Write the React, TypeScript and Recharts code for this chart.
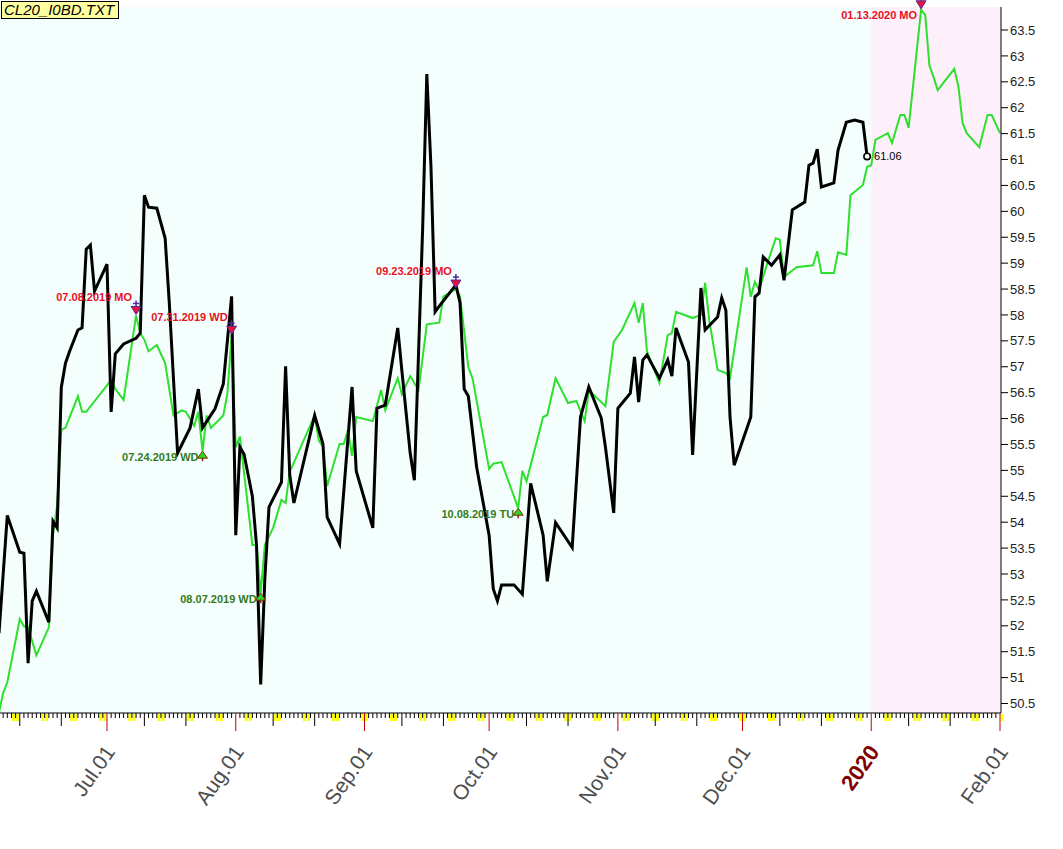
import React from "react";
import { LineChart, Line, XAxis, YAxis, ReferenceArea, ReferenceDot } from "recharts";

// x values are days counted from 2019-07-01 (a Monday)
const closeDays = [
  -26, -24, -21, -20, -19, -18, -17, -14, -13, -12, -11, -10, -9, -7, -6, -5, -4, -3,
  0, 1, 2, 4, 7, 8, 9, 10, 12, 14, 15, 17, 20, 22, 23, 26, 28, 30, 31, 32, 33, 35, 36,
  37, 38, 39, 42, 43, 44, 45, 50, 52, 53, 56, 59, 60, 64, 65, 67, 70, 71, 73, 74, 76,
  77, 78, 79, 80, 84, 85, 86, 87, 89, 92, 93, 94, 95, 98, 100, 102, 105, 106, 108, 112,
  114, 116, 119, 120, 122, 123, 126, 127, 128, 129, 130, 133, 135, 136, 137, 140, 141,
  143, 144, 147, 148, 149, 150, 151, 155, 156, 157, 158, 160, 162, 163, 165, 168, 169,
  170, 171, 172, 175, 176, 178, 180, 182, 183,
];
const closePrices = [
  51.86, 54.13, 53.42, 53.4, 51.28, 52.48, 52.67, 52.07, 54.02, 53.89, 56.6, 57.07, 57.3,
  57.71, 57.75, 59.27, 59.35, 58.46, 58.98, 56.13, 57.25, 57.44, 57.55, 57.65, 60.31,
  60.08, 60.06, 59.48, 58.23, 55.33, 55.82, 56.57, 55.82, 56.19, 56.67, 58.36, 53.75,
  55.45, 55.31, 54.5, 53.56, 50.87, 52.9, 54.29, 54.77, 57.01, 54.91, 54.37, 56.06,
  55.51, 54.1, 53.58, 56.61, 54.99, 53.89, 56.2, 56.26, 57.75, 56.92, 55.33, 54.81,
  59.68, 62.65, 60.86, 58.06, 58.17, 58.58, 58.23, 56.57, 56.43, 55.06, 53.75, 52.71,
  52.48, 52.79, 52.79, 52.61, 54.75, 53.75, 52.86, 53.99, 53.51, 56.03, 56.61, 56.01,
  55.45, 54.18, 56.2, 56.49, 57.19, 56.32, 57.13, 57.23, 56.78, 57.13, 56.82, 57.75,
  57.09, 55.3, 58.52, 57.71, 57.96, 58.33, 58.09, 56.03, 55.1, 56.03, 58.35, 58.42,
  59.12, 58.96, 59.16, 58.67, 60.03, 60.18, 60.89, 60.93, 61.2, 60.47, 60.55, 61.18,
  61.72, 61.76, 61.72, 61.06,
];

const forecastDays = [
  -26, -25, -24, -21, -20, -19, -17, -14, -13, -12, -11, -10, -7, -6, -5, 1, 2, 4, 7, 8,
  9, 10, 12, 14, 16, 18, 19, 21, 22, 23, 24, 25, 28, 29, 30, 31, 32, 35, 36, 37, 38, 40,
  42, 43, 44, 50, 51, 52, 53, 56, 57, 58, 59, 60, 64, 66, 67, 70, 71, 73, 75, 77, 80,
  81, 84, 85, 87, 88, 92, 93, 95, 99, 100, 101, 105, 106, 108, 111, 113, 115, 116, 120,
  122, 124, 127, 128, 129, 130, 133, 135, 136, 137, 141, 143, 144, 145, 147, 149, 150,
  154, 155, 156, 157, 159, 161, 162, 163, 166, 170, 171, 172, 175, 176, 178, 179, 182,
  183, 184, 185, 188, 189, 191, 192, 193, 196, 197, 198, 199, 200, 204, 205, 206, 207,
  210, 212, 213, 215,
];
const forecastPrices = [
  50.33, 50.7, 50.91, 52.13, 51.99, 51.97, 51.43, 51.97, 53.75, 54.33, 55.78, 55.82,
  56.43, 56.13, 56.13, 56.74, 56.57, 56.36, 57.99, 57.65, 57.52, 57.3, 57.42, 57.07,
  56.06, 56.16, 56.13, 55.86, 56.13, 55.37, 56.06, 55.82, 56.06, 56.49, 57.61, 55.45,
  55.65, 53.56, 53.56, 52.63, 53.56, 53.89, 54.43, 54.37, 54.97, 56.06, 55.58, 55.45,
  54.7, 55.51, 55.51, 55.78, 55.28, 56.03, 55.95, 56.55, 56.16, 56.78, 56.47, 56.82,
  56.55, 57.82, 57.85, 58.36, 58.5, 58.36, 56.99, 56.78, 55.03, 55.13, 55.16, 54.27,
  54.99, 54.79, 56.03, 56.07, 56.78, 56.3, 56.34, 55.95, 56.55, 56.24, 57.48, 57.71,
  58.23, 57.85, 58.23, 57.3, 56.69, 57.61, 57.65, 58.06, 57.94, 58.0, 58.62, 57.9,
  56.94, 56.88, 56.78, 58.92, 58.35, 58.64, 58.48, 59.0, 59.48, 59.45, 58.73, 58.92,
  58.96, 59.23, 58.81, 58.81, 59.21, 59.16, 60.31, 60.51, 60.86, 60.89, 61.38, 61.51,
  61.32, 61.86, 61.86, 61.61, 63.89, 63.79, 62.82, 62.59, 62.34, 62.75, 62.4, 61.7,
  61.51, 61.24, 61.86, 61.86, 61.51,
];

const topDays = [7, 30, 84, 196];
const topLabels = ["07.08.2019 MO", "07.31.2019 WD", "09.23.2019 MO", "01.13.2020 MO"];
const bottomDays = [-26, 23, 37, 99];
const bottomLabels = ["06.05.2019 WD", "07.24.2019 WD", "08.07.2019 WD", "10.08.2019 TU"];

const monthDays = [0, 31, 62, 92, 123, 153, 184, 215];
const monthLabels = ["Jul.01", "Aug.01", "Sep.01", "Oct.01", "Nov.01", "Dec.01", "2020", "Feb.01"];
const tenthDays = [-21, -11, 9, 19, 40, 50, 71, 81, 101, 111, 132, 142, 162, 172, 193, 203];
const yTicks = [
  50.5, 51, 51.5, 52, 52.5, 53, 53.5, 54, 54.5, 55, 55.5, 56, 56.5, 57, 57.5, 58, 58.5,
  59, 59.5, 60, 60.5, 61, 61.5, 62, 62.5, 63, 63.5,
];
const lastDay = 183;
const lastClose = 61.06;
const futureStart = 184;

const xDomain = [-25.76, 215.24];
const yDomain = [50.317, 63.944];

const closeData = closeDays.map((d, i) => ({ d, v: closePrices[i] }));
const forecastData = forecastDays.map((d, i) => ({ d, v: forecastPrices[i] }));
const dayTicks: number[] = [];
for (let d = -25; d <= 215; d++) dayTicks.push(d);

const forecastAt = (d: number) => forecastPrices[forecastDays.indexOf(d)];

const FONT = "Arial, 'Liberation Sans', sans-serif";

function DayTick(props: any) {
  const { x, y, payload } = props;
  const d = payload.value;
  const wd = ((d % 7) + 7) % 7;
  const mi = monthDays.indexOf(d);
  const len = mi >= 0 ? 18 : tenthDays.includes(d) ? 13 : 5;
  const isYear = monthLabels[mi] === "2020";
  const lx = x + 9;
  const ly = y + 39;
  return (
    <g>
      {wd >= 5 && <rect x={x + 0.6} y={y + 1} width={3} height={7} fill="#ffff00" />}
      <line x1={x} x2={x} y1={y} y2={y + len} stroke={mi >= 0 ? "#c00000" : "#000"} strokeWidth={1} />
      {mi >= 0 && (
        <text
          x={lx}
          y={ly}
          textAnchor="end"
          transform={`rotate(-55 ${lx} ${ly})`}
          fontFamily={FONT}
          fontSize={isYear ? 22 : 21}
          fontWeight={isYear ? "bold" : "normal"}
          fill={isYear ? "#800000" : "#4d4d4d"}
        >
          {monthLabels[mi]}
        </text>
      )}
    </g>
  );
}

function TopMark({ cx, cy, label }: any) {
  const ty = Math.max(cy - 14, 19);
  return (
    <g>
      <path d={`M${cx - 5} ${cy - 9} L${cx + 5} ${cy - 9} L${cx} ${cy - 1} Z`} fill="#ee1133" stroke="#4a2aa0" strokeWidth={1} />
      <line x1={cx} x2={cx} y1={cy - 15} y2={cy - 9} stroke="#4a2aa0" strokeWidth={1.5} />
      <line x1={cx - 3} x2={cx + 3} y1={cy - 12} y2={cy - 12} stroke="#4a2aa0" strokeWidth={1.5} />
      <text x={cx - 4} y={ty} textAnchor="end" fontFamily={FONT} fontSize={11} fontWeight="bold" fill="#e8101e">
        {label}
      </text>
    </g>
  );
}

function BottomMark({ cx, cy, label }: any) {
  return (
    <g>
      <line x1={cx} x2={cx} y1={cy + 6} y2={cy + 10} stroke="#8b2500" strokeWidth={1.5} />
      <path d={`M${cx} ${cy} L${cx + 5} ${cy + 7} L${cx - 5} ${cy + 7} Z`} fill="#22dd22" stroke="#8b2500" strokeWidth={1} />
      <text x={cx - 4} y={cy + 10} textAnchor="end" fontFamily={FONT} fontSize={11} fontWeight="bold" fill="#347a23">
        {label}
      </text>
    </g>
  );
}

function LastMark({ cx, cy }: any) {
  return (
    <g>
      <circle cx={cx} cy={cy} r={3.2} fill="#fff" stroke="#000" strokeWidth={1.6} />
      <text x={cx + 7} y={cy + 4} fontFamily={FONT} fontSize={11} fill="#000">
        {lastClose.toFixed(2)}
      </text>
    </g>
  );
}

export default function App() {
  return (
    <div style={{ position: "relative", width: 1063, height: 849, background: "#fff" }}>
      <style>{`body{margin:0}`}</style>
      <LineChart width={1063} height={849} margin={{ top: 7, right: 0, bottom: 0, left: 0 }}>
        <XAxis
          type="number"
          dataKey="d"
          domain={xDomain}
          allowDataOverflow
          ticks={dayTicks}
          interval={0}
          height={136}
          tickSize={0}
          tickMargin={0}
          tickLine={false}
          axisLine={{ stroke: "#000" }}
          tick={<DayTick />}
        />
        <YAxis
          orientation="right"
          type="number"
          domain={yDomain}
          allowDataOverflow
          ticks={yTicks}
          interval={0}
          width={62}
          tickSize={7}
          tickMargin={2}
          tickLine={{ stroke: "#000" }}
          axisLine={{ stroke: "#000" }}
          tick={{ fill: "#222", fontSize: 13, fontFamily: FONT }}
        />
        <ReferenceArea x1={xDomain[0]} x2={futureStart} fill="#f4fffd" fillOpacity={1} stroke="none" />
        <ReferenceArea x1={futureStart} x2={xDomain[1]} fill="#fdf0fa" fillOpacity={1} stroke="none" />
        <Line data={forecastData} dataKey="v" stroke="#2ee02e" strokeWidth={2} dot={false} isAnimationActive={false} />
        <Line data={closeData} dataKey="v" stroke="#000" strokeWidth={3} dot={false} isAnimationActive={false} />
        {topDays.map((d, i) => (
          <ReferenceDot key={"t" + d} x={d} y={forecastAt(d)} shape={(p: any) => <TopMark {...p} label={topLabels[i]} />} />
        ))}
        {bottomDays.map((d, i) => (
          <ReferenceDot key={"b" + d} x={d} y={forecastAt(d)} shape={(p: any) => <BottomMark {...p} label={bottomLabels[i]} />} />
        ))}
        <ReferenceDot x={lastDay} y={lastClose} shape={(p: any) => <LastMark {...p} />} />
      </LineChart>
      <div
        style={{
          position: "absolute",
          left: 1,
          top: 1,
          width: 114,
          height: 16,
          background: "#ffffa0",
          border: "1px solid #000",
          fontFamily: FONT,
          fontStyle: "italic",
          fontSize: 15,
          lineHeight: "16px",
          paddingLeft: 2,
          boxSizing: "content-box",
          color: "#000",
        }}
      >
        CL20_I0BD.TXT
      </div>
    </div>
  );
}
